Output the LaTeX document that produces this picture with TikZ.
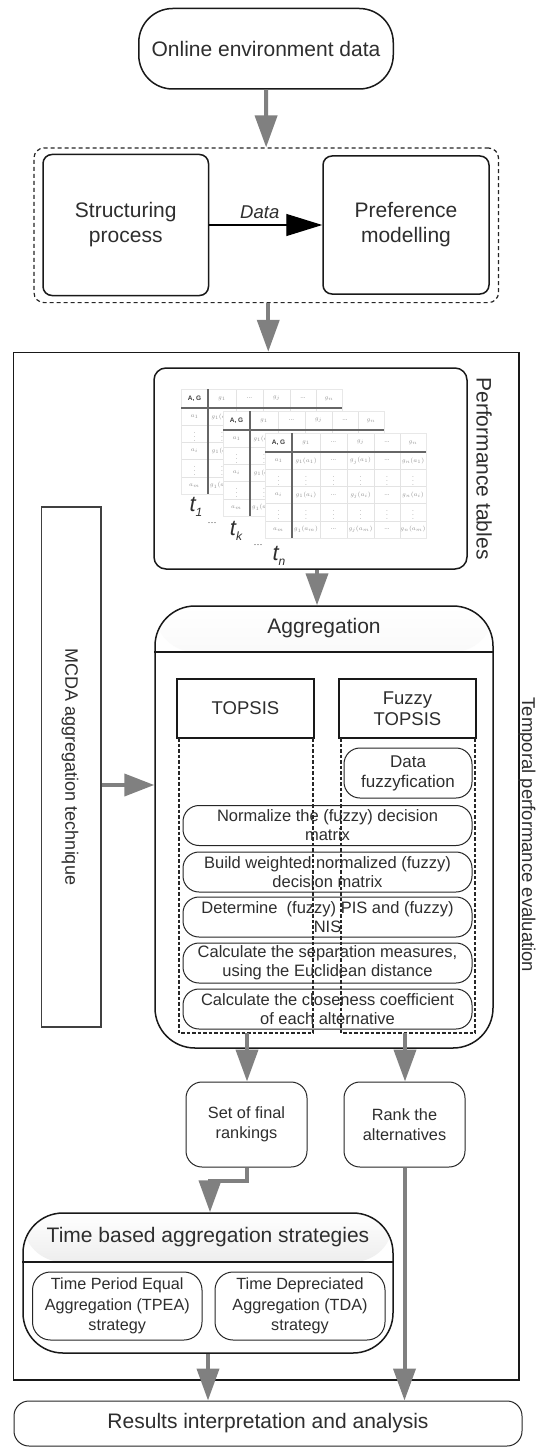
\documentclass[tikz,border=0pt]{standalone}
\usepackage{fontspec}
\setmainfont{Liberation Sans}
\usetikzlibrary{arrows.meta,calc}
\newcommand{\fs}[2]{\fontsize{#1}{#2}\selectfont}
\newcommand{\perftable}[2]{%
\begin{scope}[shift={(#1,#2)}]
 \fill[white] (0,0) rectangle (161,105);
 \foreach \xx in {27,55,82,109,135} \draw[gray!22, line width=0.6pt] (\xx,0) -- (\xx,105);
 \foreach \yy in {36.2,53.4,70.6,87.8} \draw[gray!22, line width=0.6pt] (0,\yy) -- (161,\yy);
 \draw[gray!18, line width=0.6pt] (0,0) rectangle (161,105);
 \node[tcell, text=black!75, font=\fs{6.5}{6.5}\bfseries] at (13.5,9.5) {A, G};
 \node[tcell] at (41,9.5) {$g_1$};
 \node[tcell] at (68.5,9.5) {...};
 \node[tcell] at (95.5,9.5) {$g_j$};
 \node[tcell] at (122,9.5) {...};
 \node[tcell] at (148,9.5) {$g_n$};
 \foreach \yy/\s in {27.6/1,62/i,96.4/m}{
   \node[tcell] at (13.5,\yy) {$a_\s$};
   \node[tcell] at (41,\yy) {$g_1(a_\s)$};
   \node[tcell] at (68.5,\yy) {...};
   \node[tcell] at (95.5,\yy) {$g_j(a_\s)$};
   \node[tcell] at (122,\yy) {...};
   \node[tcell] at (148,\yy) {$g_n(a_\s)$};
 }
 \foreach \yy in {44.8,79.2}{
   \foreach \xx in {13.5,41,68.5,95.5,122,148} \node[tcell] at (\xx,\yy) {$\vdots$};
 }
 \draw[black!60, line width=2pt] (0,19) -- (161,19);
 \draw[black!60, line width=2pt] (27,0) -- (27,105);
\end{scope}}
\begin{document}
\begin{tikzpicture}[x=1pt,y=-1pt,
  txt/.style={text=black!82, font=\fs{21}{25}, align=center},
  bigbox/.style={draw=black!90, line width=1.5pt, rounded corners=9pt, inner sep=0pt},
  thinbox/.style={draw=black!85, line width=1pt, inner sep=0pt, align=center, text=black!82},
  stepbox/.style={thinbox, rounded corners=16pt, minimum width=289pt, minimum height=40pt, font=\fs{16.5}{19}},
  garrow/.style={draw=gray, line width=4pt, -{Triangle[width=22pt,length=32pt]}},
  tcell/.style={inner sep=0pt, text=gray!85, font=\fs{6.5}{6.5}},
  tlabel/.style={inner sep=0pt, text=black!82, font=\fs{22}{22}\itshape},
  hdrshade/.style={path picture={\shade[top color=white, bottom color=gray!40]
     (path picture bounding box.north west) rectangle ([yshift=-#1]path picture bounding box.north east);}},
  coldash/.style={draw=black!85, line width=1.1pt, dash pattern=on 3.5pt off 2pt}
]
\fill[white] (0,0) rectangle (537,1447);
\useasboundingbox (0,0) rectangle (537,1447);

% top part
\node[bigbox, rounded corners=34pt, minimum width=254.5pt, minimum height=80.5pt, txt] (online) at (266,48.75) {Online environment data};
\node[draw=black!85, dash pattern=on 4pt off 3pt, line width=1.2pt, rounded corners=10pt, minimum width=464.5pt, minimum height=154.6pt, inner sep=0pt] (dbox) at (266.25,225.3) {};
\node[bigbox, minimum width=165.5pt, minimum height=141pt, txt] (struct) at (125.75,225) {Structuring\\process};
\node[bigbox, minimum width=166pt, minimum height=138pt, txt] (pref) at (406,225) {Preference\\modelling};
\draw[black, line width=1.3pt, -{Triangle[width=22pt,length=36pt]}] (struct) -- node[above=2pt, xshift=-6pt, font=\fs{18.5}{20}\itshape, text=black!82] (datalbl) {Data} (pref);
\draw[garrow] (online) -- (dbox);

% outer frame
\node[draw=black!90, line width=1.5pt, minimum width=505.3pt, minimum height=1027.5pt, inner sep=0pt] (outer) at (266.35,866.25) {};
\draw[garrow] ([xshift=2pt]dbox.south) -- ([xshift=2pt]dbox.south |- outer.north);
\node[txt, rotate=-90, font=\fs{18.5}{22}, inner sep=0pt] (temporal) at (527,835) {Temporal performance evaluation};

% performance tables
\node[bigbox, rounded corners=12pt, minimum width=313pt, minimum height=201pt] (perf) at (310.5,468.5) {};
\perftable{181}{389}
\perftable{223}{411}
\perftable{265}{433}
\node[tlabel] (t1) at (196,507) {t\raisebox{-5pt}{\fs{12}{12}1}};
\node[tlabel] (tk) at (236,531) {t\raisebox{-5pt}{\fs{12}{12}k}};
\node[tlabel] (tn) at (279,556) {t\raisebox{-5pt}{\fs{12}{12}n}};
\node[inner sep=0pt, text=black!82, font=\fs{9}{9}] (d1) at (212,524) {···};
\node[inner sep=0pt, text=black!82, font=\fs{9}{9}] (d2) at (258,546) {···};
\node[txt, rotate=-90] (perflbl) at (484,468.5) {Performance tables};

% aggregation
\node[draw=black!90, line width=1.5pt, rounded corners=40pt, minimum width=338pt, minimum height=442pt, inner sep=0pt, hdrshade=46pt] (agg) at (324,827) {};
\coordinate (agghdr) at (0,652);
\draw[black!90, line width=1.5pt] (agg.west |- agghdr) -- (agg.east |- agghdr);
\node[txt] (aggtitle) at (324,628) {Aggregation};
\draw[garrow] ([xshift=6.5pt]perf.south) -- ([xshift=6.5pt]perf.south |- agg.north);

\node[draw=black!90, line width=1.5pt, inner sep=0pt, minimum width=137pt, minimum height=59pt, txt, font=\fs{18.5}{21}] (topsis) at (245.5,708.5) {TOPSIS};
\node[draw=black!90, line width=1.5pt, inner sep=0pt, minimum width=137pt, minimum height=59pt, txt, font=\fs{18.5}{21}] (ftopsis) at (407.5,708.5) {Fuzzy\\TOPSIS};
\draw[coldash] (179,738) -- (179,1033) -- (313,1033) -- (313,738);
\draw[coldash] (341,738) -- (341,1033) -- (475,1033) -- (475,738);
\node[thinbox, rounded corners=16pt, minimum width=128pt, minimum height=50pt, font=\fs{17}{20}] (fuzzif) at (408,773) {Data\\fuzzyfication};
\node[stepbox] (s1) at (327.5,825.5) {Normalize the (fuzzy) decision\\matrix};
\node[stepbox] (s2) at (327.5,872) {Build weighted normalized (fuzzy)\\decision matrix};
\node[stepbox] (s3) at (327.5,917) {Determine \ (fuzzy) PIS and (fuzzy)\\NIS};
\node[stepbox] (s4) at (327.5,963) {Calculate the separation measures,\\using the Euclidean distance};
\node[stepbox] (s5) at (327.5,1009) {Calculate the closeness coefficient\\of each alternative};

% MCDA
\node[draw=black!75, line width=1.3pt, minimum width=59.3pt, minimum height=520pt, inner sep=0pt] (mcda) at (71.4,767) {};
\node[txt, rotate=-90, font=\fs{18}{20}] (mcdatext) at (70,767) {MCDA aggregation technique};
\coordinate (mcdaY) at (0,785);
\draw[garrow, -{Triangle[width=22pt,length=30pt]}] (mcda.east |- mcdaY) -- (agg.west |- mcdaY);

% rankings
\node[thinbox, rounded corners=16pt, minimum width=121pt, minimum height=85pt, font=\fs{16.3}{20}] (setf) at (246.5,1124.5) {Set of final\\rankings};
\node[thinbox, rounded corners=16pt, minimum width=121pt, minimum height=85pt, font=\fs{16.3}{20}] (rank) at (404.5,1124.5) {Rank the\\alternatives};
\coordinate (aggL) at (247,1033);
\coordinate (aggR) at (405,1033);
\draw[garrow] (aggL) -- (aggL |- setf.north);
\draw[garrow] (aggR) -- (aggR |- rank.north);

% time based
\node[draw=black!90, line width=1.5pt, rounded corners=40pt, minimum width=370pt, minimum height=140pt, inner sep=0pt, hdrshade=49pt] (time) at (208,1283) {};
\coordinate (timehdr) at (0,1262);
\draw[black!90, line width=1.5pt] (time.west |- timehdr) -- (time.east |- timehdr);
\node[txt] (timetitle) at (208,1237) {Time based aggregation strategies};
\node[thinbox, rounded corners=18pt, minimum width=169.5pt, minimum height=68pt, font=\fs{16.2}{20.5}] (tpea) at (117.25,1306) {Time Period Equal\\Aggregation (TPEA)\\strategy};
\node[thinbox, rounded corners=18pt, minimum width=170pt, minimum height=68pt, font=\fs{16.2}{20.5}] (tda) at (300,1306) {Time Depreciated\\Aggregation (TDA)\\strategy};
\draw[garrow] (setf.south) -- ++(0,13) -| ([xshift=2pt]time.north);

% results
\node[thinbox, rounded corners=15pt, minimum width=508pt, minimum height=45pt, txt] (results) at (268,1423.5) {Results interpretation and analysis};
\draw[garrow] (time.south) -- (time.south |- results.north);
\draw[garrow] (rank.south) -- (rank.south |- results.north);
\end{tikzpicture}
\end{document}
